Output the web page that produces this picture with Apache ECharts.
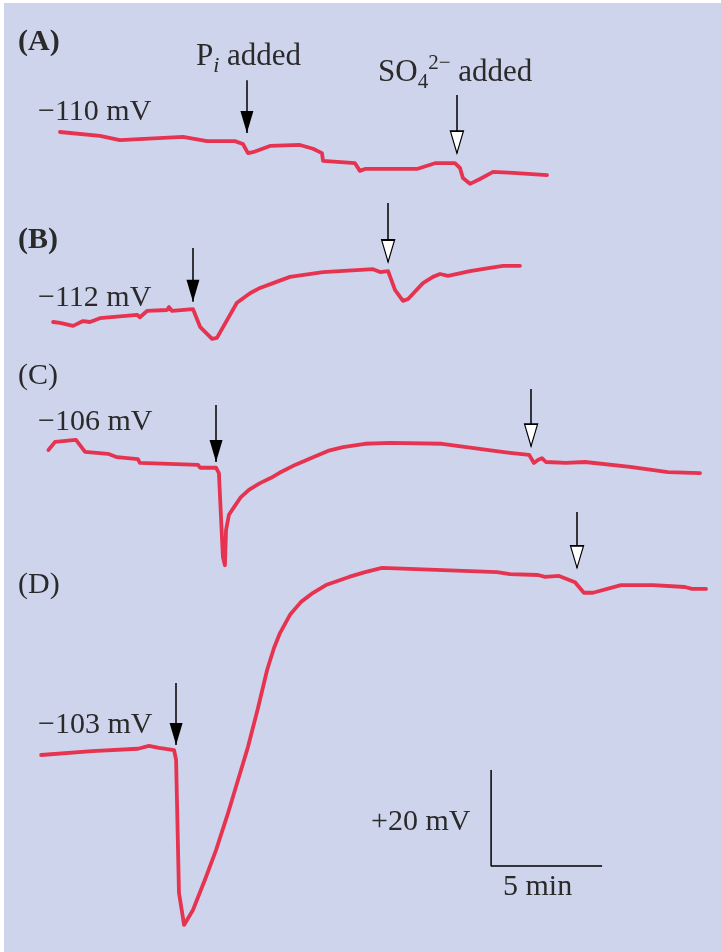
<!DOCTYPE html>
<html>
<head>
<meta charset="utf-8">
<script src="https://cdn.jsdelivr.net/npm/echarts@6/dist/echarts.min.js"></script>
<style>
  html, body { margin: 0; padding: 0; background: #fff; }
  #chart { width: 721px; height: 952px; }
</style>
</head>
<body>
<div id="chart"></div>
<script>
// time (min) and membrane potential (mV)
const timeA = [0.9, 2.7, 3.6, 6.44, 7.52, 8.78, 9.14, 9.37, 9.59, 10.36, 11.71, 12.3, 12.7, 12.75, 14.19, 14.41, 14.64, 16.98, 17.79, 18.69, 18.92, 19.05, 19.37, 19.82, 20.41, 21.31, 22.84]
const mvA = [-110, -109.2, -108.3, -109, -108.1, -108.1, -107.5, -105.6, -105.8, -107.1, -107.3, -106.5, -105.6, -104, -103.5, -101.9, -102.3, -102.3, -103.5, -103.5, -102.5, -100.4, -99.2, -100.2, -101.7, -101.5, -101]

const timeB = [0.59, 0.9, 1.49, 1.94, 2.25, 2.7, 4.37, 4.5, 4.82, 5.72, 5.81, 5.95, 6.89, 6.98, 7.21, 7.75, 7.97, 8.87, 9.46, 9.91, 10.5, 11.26, 12.75, 15.0, 15.32, 15.68, 15.99, 16.35, 16.58, 17.25, 17.7, 18.02, 18.38, 19.37, 20.27, 20.86, 21.62]
const mvB = [-112, -111.8, -111.2, -112.2, -112, -112.8, -113.5, -113, -114.3, -114.5, -115.1, -114.3, -114.7, -114.5, -111, -108.5, -108.7, -116, -118, -119.1, -120.1, -121.4, -122.4, -123, -122.4, -122.6, -118.7, -116.4, -116.8, -120.1, -121.4, -122, -121.6, -122.6, -123.3, -123.7, -123.7]

const timeC = [0.38, 0.68, 1.62, 2.03, 3.06, 3.47, 4.41, 4.5, 7.12, 7.21, 7.93, 8.06, 8.11, 8.24, 8.33, 8.38, 8.51, 8.74, 9.05, 9.41, 9.91, 10.41, 10.77, 11.49, 12.3, 12.97, 13.65, 14.64, 15.77, 18.11, 20.81, 21.17, 22.03, 22.25, 22.43, 22.61, 22.79, 23.69, 24.55, 26.58, 28.29, 29.73]
const mvC = [-106, -107.7, -108.1, -105.6, -105.2, -104.5, -104.1, -103.3, -102.9, -102.3, -102.3, -101.2, -96.2, -83.7, -82, -89.3, -92.5, -94.1, -96.2, -97.7, -99.1, -100.2, -101.2, -102.9, -104.5, -105.8, -106.6, -107.3, -107.5, -107.3, -105.6, -105.4, -105, -103.3, -103.9, -104.3, -103.5, -103.3, -103.5, -102.5, -101.4, -101.2]

const timeD = [0.05, 2.34, 4.41, 4.91, 5.36, 6.04, 6.13, 6.26, 6.49, 6.89, 7.43, 7.93, 8.47, 8.92, 9.37, 9.82, 10.23, 10.54, 10.81, 11.26, 11.76, 12.3, 12.88, 13.92, 14.64, 15.41, 20.59, 21.17, 22.43, 22.75, 23.38, 24.1, 24.5, 24.91, 26.17, 27.61, 29.05, 29.37, 30.0]
const mvD = [-103, -103.8, -104.3, -104.9, -104.5, -104, -102, -74.3, -67.6, -70.7, -77, -83.2, -90.9, -97.8, -104.7, -112.8, -120.7, -125.3, -128.4, -132.2, -134.9, -136.8, -138.4, -140.1, -141.1, -142, -141.1, -140.7, -140.5, -140.1, -140.3, -139, -136.8, -136.8, -138.4, -138.4, -138, -137.6, -137.6]

// additions: Pi (filled arrow) and SO4 2- (open arrow), per panel A-D
const piTime = [9.32, 6.89, 7.93, 6.13]
const piTip = [-109.8, -116.2, -103.5, -105.1]
const piTop = [-120.8, -127.4, -115.4, -118]
const so4Time = [18.78, 15.68, 22.12, 24.19]
const so4Tip = [-105.6, -124.5, -106.8, -142]
const so4Top = [-117.7, -136.8, -118.7, -153.6]

const restLabels = ['\u2212110 mV', '\u2212112 mV', '\u2212106 mV', '\u2212103 mV']
const panelLabels = ['(A)', '(B)', '(C)', '(D)']

// scale bar (drawn in panel D)
const scaleMin = 5
const scaleMV = 20
const scaleCorner = [20.32, -79.9]

const traces = [
  [timeA, mvA], [timeB, mvB], [timeC, mvC], [timeD, mvD]
]

const RED = '#e63350'
const INK = '#2a2a2a'
const FONT = '"Liberation Serif", "Times New Roman", serif'

// same px per minute / px per mV in every panel
const grids = [
  { left: 40, width: 666, top: 60, height: 144 },
  { left: 40, width: 666, top: 190, height: 168 },
  { left: 40, width: 666, top: 368.4, height: 216 },
  { left: 40, width: 666, top: 491, height: 448.8 }
]
const yRanges = [[-125, -95], [-139.5, -104.5], [-123, -78], [-158, -64.5]]

const headPath = 'path://M0,0L12,0L6,20Z'

const series = []
traces.forEach(([t, v], i) => {
  series.push({
    type: 'line',
    xAxisIndex: i,
    yAxisIndex: i,
    data: t.map((x, k) => [x, v[k]]),
    symbol: 'none',
    silent: true,
    lineStyle: { color: RED, width: 3.8, cap: 'round', join: 'round' },
    z: 3,
    markLine: {
      silent: true,
      symbol: 'none',
      label: { show: false },
      lineStyle: { color: '#000', width: 1.5, type: 'solid' },
      data: [
        [{ coord: [piTime[i], piTop[i]] }, { coord: [piTime[i], piTip[i]] }],
        [{ coord: [so4Time[i], so4Top[i]] }, { coord: [so4Time[i], so4Tip[i]] }]
      ]
    }
  })
  series.push({
    type: 'scatter',
    xAxisIndex: i,
    yAxisIndex: i,
    silent: true,
    z: 5,
    symbol: headPath,
    symbolSize: [13, 22],
    symbolOffset: [0, -11],
    itemStyle: { color: '#000', opacity: 1 },
    data: [[piTime[i], piTip[i]]]
  })
  series.push({
    type: 'scatter',
    xAxisIndex: i,
    yAxisIndex: i,
    silent: true,
    z: 5,
    symbol: headPath,
    symbolSize: [13, 22],
    symbolOffset: [0, -11],
    itemStyle: { color: '#fff', borderColor: '#000', borderWidth: 1.4, opacity: 1 },
    data: [[so4Time[i], so4Tip[i]]]
  })
})

series.push({
  type: 'line',
  xAxisIndex: 3,
  yAxisIndex: 3,
  symbol: 'none',
  silent: true,
  lineStyle: { color: '#000', width: 1.5 },
  data: [
    [scaleCorner[0], scaleCorner[1] - scaleMV],
    [scaleCorner[0], scaleCorner[1]],
    [scaleCorner[0] + scaleMin, scaleCorner[1]]
  ]
})

function txt(text, x, y, size, weight) {
  return {
    type: 'text',
    x: x,
    y: y,
    z: 10,
    style: {
      text: text,
      fill: INK,
      font: (weight || 'normal') + ' ' + size + 'px ' + FONT,
      verticalAlign: 'middle'
    }
  }
}

const labelYs = [[42, 112], [240, 298], [376, 422], [585, 725]]
const graphics = [
  { type: 'rect', z: -10, silent: true, shape: { x: 4, y: 3, width: 717, height: 949 }, style: { fill: '#ced4ec' } }
]
panelLabels.forEach((p, i) => {
  graphics.push(txt(p, 18, labelYs[i][0], 30, i < 2 ? 'bold' : 'normal'))
  graphics.push(txt(restLabels[i], 38, labelYs[i][1], 30))
})
graphics.push({
  type: 'text', x: 196, y: 57, z: 10,
  style: {
    text: '{p|P}{s|i}{p| added}',
    verticalAlign: 'middle',
    rich: {
      p: { fontFamily: FONT, fontSize: 31, lineHeight: 40, fill: INK, color: INK },
      s: { fontFamily: FONT, fontSize: 22, fontStyle: 'italic', lineHeight: 20, verticalAlign: 'bottom', fill: INK, color: INK }
    }
  }
})
graphics.push({
  type: 'text', x: 378, y: 73, z: 10,
  style: {
    text: '{p|SO}{s|4}{u|2\u2212}{p| added}',
    verticalAlign: 'middle',
    rich: {
      p: { fontFamily: FONT, fontSize: 31, lineHeight: 40, fill: INK, color: INK },
      s: { fontFamily: FONT, fontSize: 21, lineHeight: 20, verticalAlign: 'bottom', fill: INK, color: INK },
      u: { fontFamily: FONT, fontSize: 21, lineHeight: 20, verticalAlign: 'top', fill: INK, color: INK }
    }
  }
})
graphics.push(txt('+20 mV', 371, 822, 30))
graphics.push(txt('5 min', 503, 887, 30))

const chart = echarts.init(document.getElementById('chart'))
chart.setOption({
  backgroundColor: '#fff',
  animation: false,
  grid: grids,
  xAxis: grids.map((g, i) => ({ type: 'value', gridIndex: i, min: 0, max: 30, show: false })),
  yAxis: grids.map((g, i) => ({
    type: 'value', gridIndex: i, inverse: true,
    min: yRanges[i][0], max: yRanges[i][1], show: false
  })),
  graphic: graphics,
  series: series
})
</script>
</body>
</html>
